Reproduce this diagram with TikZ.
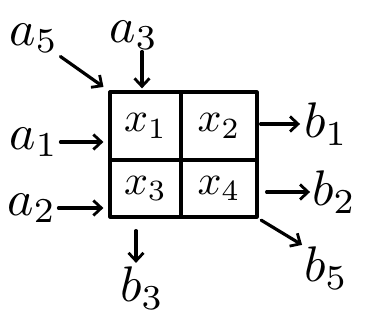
\documentclass[tikz,border=0pt]{standalone}
\usetikzlibrary{arrows.meta}
\begin{document}
\begin{tikzpicture}[x=1pt,y=-1pt,
  ink/.style={line width=3.2pt,line cap=round,line join=round},
  cell/.style={ink,draw,rectangle,inner sep=0pt},
  celltext/.style={inner sep=0pt,scale=4.2},
  lab/.style={inner sep=0.2pt,scale=5.0},
  flow/.style={ink,-{Straight Barb[length=8pt,width=15pt,line width=2.8pt]}}]
\useasboundingbox (0,0) rectangle (368,321);
% the 2x2 grid of cells
\node[cell,minimum width=71pt,minimum height=68pt] (x1) at (145.5,126) {};
\node[cell,minimum width=76pt,minimum height=68pt] (x2) at (219,126) {};
\node[cell,minimum width=71pt,minimum height=57pt] (x3) at (145.5,188.5) {};
\node[cell,minimum width=76pt,minimum height=57pt] (x4) at (219,188.5) {};
\node[celltext] (t1) at (x1) {$x_1$};
\node[celltext] (t2) at (x2) {$x_2$};
\node[celltext] (t3) at (x3) {$x_3$};
\node[celltext] (t4) at (x4) {$x_4$};
% inputs
\node[lab] (a5) at (34,38) {$a_5$};
\node[lab] (a3) at (134,35) {$a_3$};
\node[lab] (a1) at (34,142) {$a_1$};
\node[lab] (a2) at (32,208) {$a_2$};
% outputs
\node[lab] (b1) at (326,124) {$b_1$};
\node[lab] (b2) at (334,192) {$b_2$};
\node[lab] (b3) at (142,288) {$b_3$};
\node[lab] (b5) at (326,268) {$b_5$};
% connectors
\draw[flow,shorten >=6pt] (a5.south east) ++(0,2) coordinate (a5tail) -- (x1.north west);
\draw[flow,shorten >=2pt] (a3.south) ++(8,0) coordinate (a3tail) -- (a3tail |- x1.north);
\draw[flow,shorten >=5pt] (a1.east) -- (x1.west |- a1.east);
\draw[flow,shorten >=5pt] (a2.east) -- (x3.west |- a2.east);
\draw[flow,shorten <=2pt,shorten >=2pt] (x2.east |- b1.west) -- (b1.west);
\draw[flow,shorten <=8pt] (x4.east |- b2.west) -- (b2.west);
\draw[flow,shorten <=12pt,shorten >=2pt] (x3.south -| b3.north) ++(-6,0) coordinate (b3top) -- (b3top |- b3.north);
\draw[flow,shorten <=3pt,shorten >=0pt] (x4.south east) -- (b5.north west);
\end{tikzpicture}
\end{document}
